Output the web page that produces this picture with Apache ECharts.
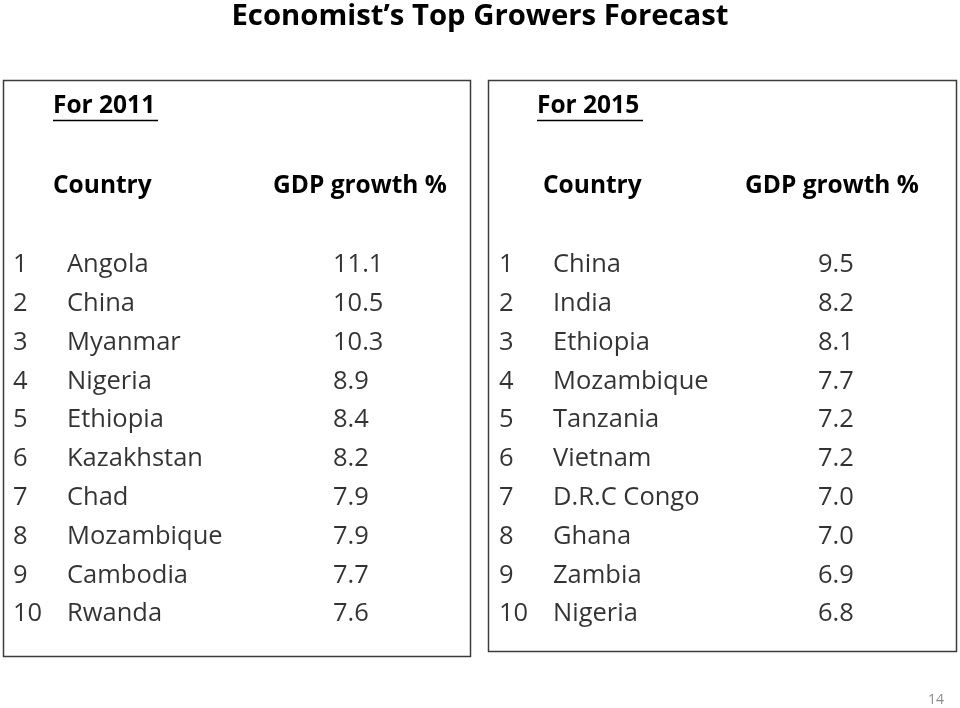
<!DOCTYPE html>
<html>
<head>
<meta charset="utf-8">
<script src="https://cdn.jsdelivr.net/npm/echarts@6/dist/echarts.min.js"></script>
<style>
html,body{margin:0;padding:0;background:#fff;}
#chart{width:960px;height:708px;}
</style>
</head>
<body>
<div id="chart"></div>
<script>
// ---- data ----
const ranks = ['1','2','3','4','5','6','7','8','9','10'];
const countries2011 = ['Angola','China','Myanmar','Nigeria','Ethiopia','Kazakhstan','Chad','Mozambique','Cambodia','Rwanda'];
const growth2011 = [11.1, 10.5, 10.3, 8.9, 8.4, 8.2, 7.9, 7.9, 7.7, 7.6];
const countries2015 = ['China','India','Ethiopia','Mozambique','Tanzania','Vietnam','D.R.C Congo','Ghana','Zambia','Nigeria'];
const growth2015 = [9.5, 8.2, 8.1, 7.7, 7.2, 7.2, 7.0, 7.0, 6.9, 6.8];

// ---- layout ----
const FONT = '"Open Sans"';
const ROW_FONT = 25.5;
const tables = [
  { countries: countries2011, values: growth2011, rankX: 13, countryX: 67, valueX: 333 },
  { countries: countries2015, values: growth2015, rankX: 499, countryX: 553, valueX: 818 }
];

const chart = echarts.init(document.getElementById('chart'), null, { renderer: 'canvas' });

function textSeries(data, fmt) {
  return {
    type: 'scatter',
    symbolSize: 0,
    silent: true,
    data: data,
    label: {
      show: true,
      position: 'right',
      distance: 0,
      formatter: fmt,
      color: '#000',
      fontFamily: FONT,
      fontSize: ROW_FONT
    }
  };
}

const series = [];
tables.forEach(t => {
  series.push(textSeries(ranks.map((r, i) => [t.rankX, i, r]), p => p.value[2]));
  series.push(textSeries(t.countries.map((c, i) => [t.countryX, i, c]), p => p.value[2]));
  series.push(textSeries(t.values.map((v, i) => [t.valueX, i, v]), p => p.value[2].toFixed(1)));
});

function txt(x, y, s, size, bold, align, color) {
  return {
    type: 'text', x: x, y: y, silent: true,
    style: { text: s, fontFamily: FONT, fontSize: size, fontWeight: bold ? 'bold' : 'normal',
             fill: color || '#000', textVerticalAlign: 'middle', textAlign: align || 'left' }
  };
}

const headSize = 24.5;
const graphics = [
  { type: 'rect', shape: { x: 3.5, y: 80.5, width: 467, height: 576 }, style: { fill: 'none', stroke: '#3c3c3c', lineWidth: 1.5 }, silent: true },
  { type: 'rect', shape: { x: 488.5, y: 80.5, width: 468, height: 571 }, style: { fill: 'none', stroke: '#3c3c3c', lineWidth: 1.5 }, silent: true },
  txt(480, 17, 'Economist\u2019s Top Growers Forecast', 29.3, true, 'center'),
  txt(53, 106, 'For 2011', headSize, true),
  { type: 'line', shape: { x1: 53, y1: 120.5, x2: 158, y2: 120.5 }, style: { stroke: '#000', lineWidth: 1.5 }, silent: true },
  txt(53, 186, 'Country', headSize, true),
  txt(273, 186, 'GDP growth %', headSize, true),
  txt(537, 106, 'For 2015', headSize, true),
  { type: 'line', shape: { x1: 537, y1: 120.5, x2: 643, y2: 120.5 }, style: { stroke: '#000', lineWidth: 1.5 }, silent: true },
  txt(543, 186, 'Country', headSize, true),
  txt(745, 186, 'GDP growth %', headSize, true),
  txt(928, 700, '14', 14, false, 'left', '#8c8c8c')
];

chart.setOption({
  animation: false,
  backgroundColor: '#fff',
  grid: { left: 0, right: 0, top: 245.5, height: 388, containLabel: false },
  xAxis: { type: 'value', min: 0, max: 960, show: false },
  yAxis: { type: 'category', data: ranks, inverse: true, show: false },
  series: series,
  graphic: graphics
});
</script>
</body>
</html>
